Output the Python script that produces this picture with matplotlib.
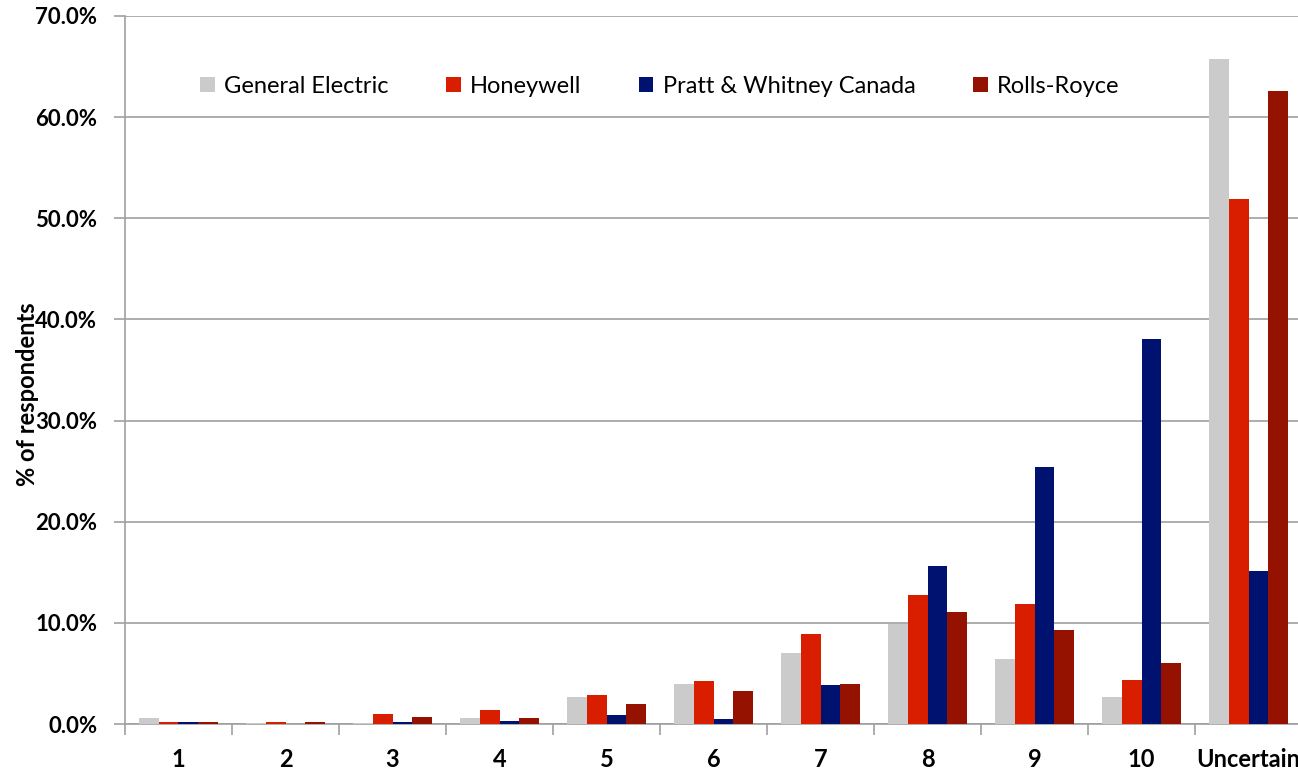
import matplotlib
matplotlib.use('Agg')
import matplotlib.pyplot as plt
import numpy as np

plt.rcParams['font.family'] = ['Lato', 'DejaVu Sans']

categories = ['1', '2', '3', '4', '5', '6', '7', '8', '9', '10', 'Uncertain']
series = ['General Electric', 'Honeywell', 'Pratt & Whitney Canada', 'Rolls-Royce']
ge = [0.6, 0.1, 0.1, 0.6, 2.7, 4.0, 7.05, 9.85, 6.45, 2.7, 65.7]
honeywell = [0.2, 0.2, 1.0, 1.4, 2.85, 4.25, 8.9, 12.75, 11.9, 4.4, 51.9]
pw = [0.2, 0.0, 0.2, 0.3, 0.85, 0.45, 3.85, 15.6, 25.45, 38.05, 15.15]
rr = [0.2, 0.2, 0.7, 0.6, 2.0, 3.25, 3.95, 11.1, 9.3, 6.05, 62.6]
colors = ['#cbcbcb', '#d91e00', '#001270', '#951200']

fig = plt.figure(figsize=(12.98, 7.69), dpi=100)
ax = fig.add_axes([0.0963, 0.0585, 0.9068, 0.9207])

x = np.arange(len(categories))
w = 0.185
data = [ge, honeywell, pw, rr]
for i, vals in enumerate(data):
    ax.bar(x + (i - 1.5) * w, vals, w, color=colors[i], label=series[i], zorder=3)

ax.set_xlim(-0.5, len(categories) - 0.5)
ax.set_ylim(0, 70)
ax.set_yticks(np.arange(0, 71, 10))
ax.set_yticklabels(['%.1f%%' % v for v in np.arange(0, 71, 10)], fontsize=16, fontweight='bold')
ax.yaxis.grid(True, color='#a0a0a0', linewidth=1.2, zorder=0)

ax.set_xticks(x)
ax.set_xticklabels(categories, fontsize=17, fontweight='bold')
ax.set_xticks(np.arange(-0.5, len(categories), 1), minor=True)
ax.tick_params(axis='x', which='major', length=0, pad=17)
ax.tick_params(axis='x', which='minor', length=8, color='#a0a0a0', width=1.2)
ax.tick_params(axis='y', length=8, color='#a0a0a0', width=1.2, pad=12)

for s in ['top', 'right']:
    ax.spines[s].set_visible(False)
for s in ['left', 'bottom']:
    ax.spines[s].set_color('#a0a0a0')
    ax.spines[s].set_linewidth(1.2)

ax.set_ylabel('% of respondents', fontsize=17, fontweight='bold', labelpad=0)
ax.yaxis.set_label_coords(-0.073, 0.466)

ax.legend(loc='upper left', bbox_to_anchor=(0.046, 0.945), ncol=4, frameon=False,
          fontsize=17, handlelength=0.6, handleheight=0.6, handletextpad=0.4,
          columnspacing=2.45)

fig.savefig('out.png', dpi=100)
